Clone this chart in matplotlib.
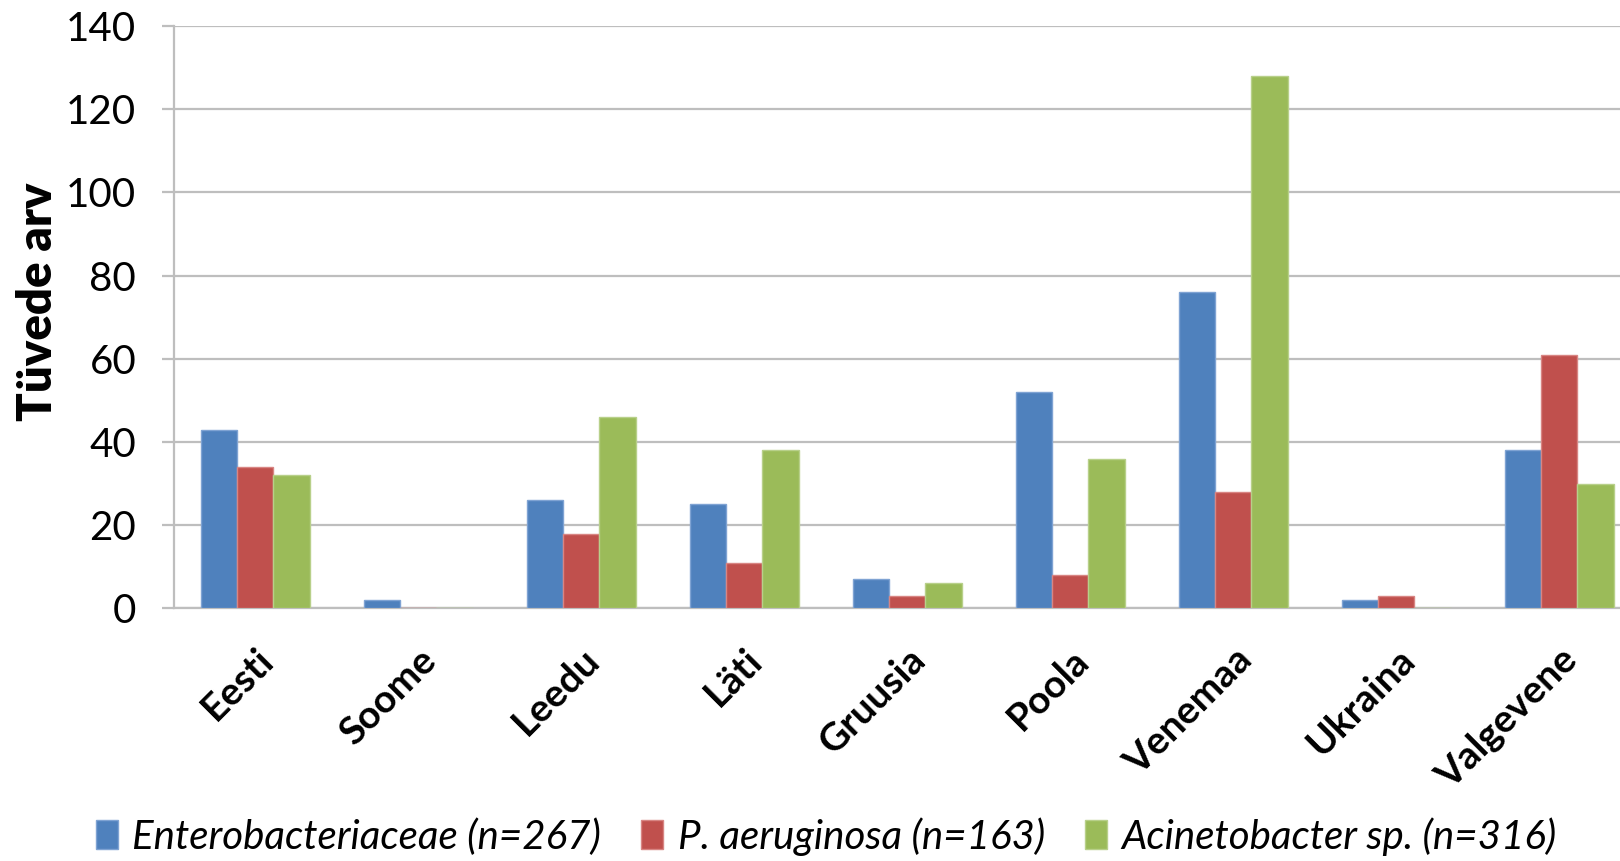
import numpy as np
import matplotlib.pyplot as plt

# Tüvede arv riigiti
countries = ["Eesti", "Soome", "Leedu", "Läti", "Gruusia", "Poola", "Venemaa", "Ukraina", "Valgevene"]
series_names = ["Enterobacteriaceae (n=267)", "P. aeruginosa (n=163)", "Acinetobacter sp. (n=316)"]
entero = [43, 2, 26, 25, 7, 52, 76, 2, 38]
paeru = [34, 0, 18, 11, 3, 8, 28, 3, 61]
acine = [32, 0, 46, 38, 6, 36, 128, 0, 30]
colors = ["#4F81BD", "#C0504D", "#9BBB59"]
edges = ["#7FA3D3", "#D88583", "#B8D08A"]

plt.rcParams['font.family'] = ['Lato', 'DejaVu Sans']

fig = plt.figure(figsize=(16.2, 8.61), dpi=100)
# the plot area runs past the right edge of the figure
ax = fig.add_axes([0.1072, 0.2933, 0.9056, 0.6767])

x = np.arange(len(countries))
w = 1 / 4.5
for k, vals in enumerate([entero, paeru, acine]):
	ax.bar(x + (k - 1)*w, vals, width=w, color=colors[k], edgecolor=edges[k],
	       linewidth=1.0, label=series_names[k], zorder=3)

ax.set_xlim(-0.5, len(countries) - 0.5)
ax.set_ylim(0, 140)
ax.set_yticks(range(0, 141, 20))
ax.yaxis.grid(True, color="#BEBEBE", linewidth=1.6, zorder=0)
ax.set_axisbelow(True)

for s in ["top", "right"]:
	ax.spines[s].set_visible(False)
ax.spines["left"].set_color("#BEBEBE")
ax.spines["left"].set_linewidth(1.6)
ax.spines["bottom"].set_color("#BEBEBE")
ax.spines["bottom"].set_linewidth(1.6)

ax.tick_params(axis="y", length=9, width=1.6, color="#BEBEBE", labelsize=29, pad=18)
ax.tick_params(axis="x", length=0, pad=24)
ax.set_xticks(x)
ax.set_xticklabels(countries, rotation=45, ha="right", rotation_mode="anchor",
                   fontsize=28, fontweight="bold")

# y-akse nimi
fig.text(0.0235, 0.65, "Tüvede arv", rotation=90, ha="center", va="center",
         fontsize=34, fontweight="heavy")

leg = fig.legend(loc="lower center", bbox_to_anchor=(0.51, -0.036), ncol=3, frameon=False,
                 prop={"size": 29, "style": "italic"}, handlelength=0.55, handleheight=0.75,
                 handletextpad=0.35, columnspacing=1.0)

fig.savefig("out.png", dpi=100)
